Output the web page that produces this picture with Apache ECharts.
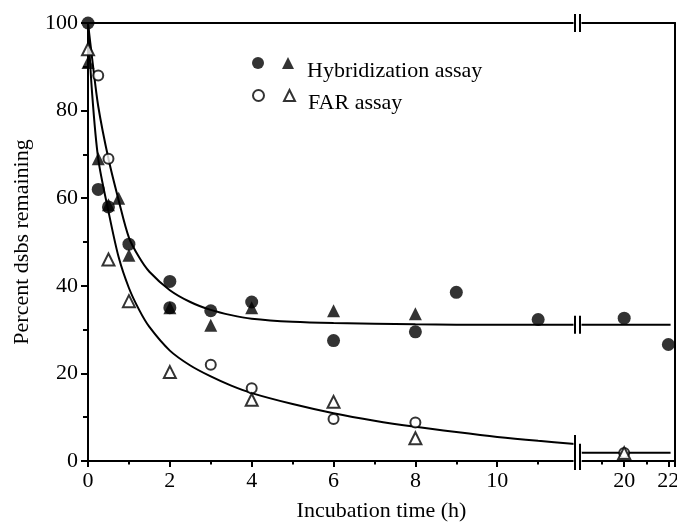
<!DOCTYPE html>
<html>
<head>
<meta charset="utf-8">
<script src="https://cdn.jsdelivr.net/npm/echarts@6/dist/echarts.min.js"></script>
<style>
html, body { margin: 0; padding: 0; background: #fff; }
#main { width: 677px; height: 522px; }
</style>
</head>
<body>
<div id="main"></div>
<script>
// time axis is broken: left part 0 - 11.9 h, right part 18 - 22.3 h
var breakStart = 11.9, breakEnd = 18;
var leftTicks = [0, 2, 4, 6, 8, 10];
var rightTicks = [20, 22];

// [time (h), percent dsbs remaining]
var hybCircle = [[0, 100], [0.25, 62], [0.5, 58], [1, 49.5], [2, 41], [2, 35], [3, 34.3], [4, 36.3],
    [6, 27.5], [8, 29.5], [9, 38.5], [11, 32.3], [20, 32.6], [22, 26.6]];
var hybTriangle = [[0, 91], [0.25, 69], [0.5, 58.5], [0.75, 60], [1, 47], [2, 35], [3, 31], [4, 35],
    [6, 34.3], [8, 33.6]];
var farCircle = [[0.25, 88], [0.5, 69], [3, 22], [4, 16.6], [6, 9.6], [8, 8.8], [20, 1.8]];
var farTriangle = [[0, 94], [0.5, 46], [1, 36.5], [2, 20.3], [4, 14], [6, 13.5], [8, 5.2], [20, 1.8]];

// fitted curves
var hybFit = [[0, 100], [0.1, 92], [0.25, 81], [0.5, 69], [0.75, 59.5], [1, 51], [1.25, 46.5], [1.5, 43.2],
    [2, 39], [2.5, 36.3], [3, 34.5], [3.5, 33.3], [4, 32.5], [5, 31.8], [6, 31.5], [8, 31.2], [10, 31.1],
    [11.9, 31.1], [18, 31.1], [22.1, 31.1]];
var farFit = [[0, 100], [0.1, 84], [0.25, 69], [0.5, 57], [0.75, 46.5], [1, 39.5], [1.25, 34.5], [1.5, 30.6],
    [2, 25.2], [2.5, 21.8], [3, 19.3], [3.5, 17.2], [4, 15.5], [5, 13], [6, 10.9], [7, 9.2], [8, 7.8],
    [9, 6.6], [10, 5.5], [11, 4.6], [11.9, 3.9], [18, 1.9], [22.1, 1.9]];

var font = 'Liberation Serif';
var black = '#000';

function leftPart(d) { return d.filter(function (p) { return p[0] <= breakStart; }); }
function rightPart(d) { return d.filter(function (p) { return p[0] >= breakEnd; }); }

var lineAxis = { show: true, onZero: false, lineStyle: { color: black, width: 2 } };

function bottomAxis(grid, min, max, ticks) {
    return {
        type: 'value', gridIndex: grid, position: 'bottom', min: min, max: max, interval: 2,
        axisLine: lineAxis,
        axisTick: { show: true, length: 6, lineStyle: { color: black, width: 2 } },
        minorTick: { show: true, splitNumber: 2, length: 3.5, lineStyle: { color: black, width: 2 } },
        axisLabel: {
            color: black, fontFamily: font, fontSize: 22, margin: 9,
            formatter: function (v) { return ticks.indexOf(v) >= 0 ? v : ''; }
        },
        splitLine: { show: false }
    };
}
function topAxis(grid, min, max) {
    return {
        type: 'value', gridIndex: grid, position: 'top', min: min, max: max,
        axisLine: lineAxis, axisTick: { show: false }, axisLabel: { show: false }, splitLine: { show: false }
    };
}

function scatter(name, data, symbol, size) {
    var empty = symbol.indexOf('empty') === 0;
    var item = { color: black };
    if (empty) { item.borderWidth = 2; item.borderColor = black; }
    return [
        { name: name, type: 'scatter', xAxisIndex: 0, yAxisIndex: 0, data: leftPart(data),
          symbol: symbol, symbolSize: size, itemStyle: item, z: 5 },
        { name: name, type: 'scatter', xAxisIndex: 2, yAxisIndex: 1, data: rightPart(data),
          symbol: symbol, symbolSize: size, itemStyle: item, z: 5 }
    ];
}
function fit(data) {
    var common = { type: 'line', smooth: 0.3, showSymbol: false, symbol: 'none',
        lineStyle: { color: black, width: 2 }, z: 3, silent: true };
    return [
        Object.assign({ xAxisIndex: 0, yAxisIndex: 0, data: leftPart(data) }, common),
        Object.assign({ xAxisIndex: 2, yAxisIndex: 1, data: rightPart(data) }, common)
    ];
}

var legendNames = { hybC: '', hybT: '{t|Hybridization assay}', farC: '', farT: '{t|FAR assay}' };
function legend(names, top, size) {
    return {
        data: names, left: 252, top: top, padding: 0, itemGap: 18, itemWidth: size, itemHeight: size,
        selectedMode: false,
        formatter: function (n) { return legendNames[n]; },
        textStyle: {
            color: black, fontFamily: font, fontSize: 22,
            rich: { t: { color: black, fontFamily: font, fontSize: 22, padding: [16, 0, 0, 8] } }
        }
    };
}

var chart = echarts.init(document.getElementById('main'));
var option = {
    animation: false,
    backgroundColor: '#fff',
    grid: [
        { left: 88, right: 102, top: 23, bottom: 61, outerBoundsMode: 'none' },
        { left: 580, right: 2, top: 23, bottom: 61, outerBoundsMode: 'none' }
    ],
    legend: [legend(['hybC', 'hybT'], 57, 12), legend(['farC', 'farT'], 89, 11)],
    xAxis: [
        bottomAxis(0, 0, breakStart, leftTicks),
        topAxis(0, 0, breakStart),
        bottomAxis(1, breakEnd, 22.3, rightTicks),
        topAxis(1, breakEnd, 22.3)
    ],
    yAxis: [
        {
            type: 'value', gridIndex: 0, min: 0, max: 100, interval: 20,
            name: 'Percent dsbs remaining', nameLocation: 'middle', nameGap: 55,
            nameTextStyle: { color: black, fontFamily: font, fontSize: 22 },
            axisLine: lineAxis,
            axisTick: { show: true, length: 7, lineStyle: { color: black, width: 2 } },
            minorTick: { show: true, splitNumber: 2, length: 5, lineStyle: { color: black, width: 2 } },
            axisLabel: { color: black, fontFamily: font, fontSize: 22, margin: 10 },
            splitLine: { show: false }
        },
        {
            type: 'value', gridIndex: 1, position: 'right', min: 0, max: 100,
            axisLine: lineAxis, axisTick: { show: false }, axisLabel: { show: false }, splitLine: { show: false }
        }
    ],
    series: [].concat(
        fit(hybFit), fit(farFit),
        scatter('hybC', hybCircle, 'circle', 13),
        scatter('hybT', hybTriangle, 'triangle', 13),
        scatter('farC', farCircle, 'emptyCircle', 10),
        scatter('farT', farTriangle, 'emptyTriangle', 12)
    )
};
chart.setOption(option);

// break marks "||" and the shared x axis title
function px(grid, x, y) { return chart.convertToPixel({ gridIndex: grid }, [x, y]); }
function lastY(d) { return leftPart(d).slice(-1)[0][1]; }
function firstY(d) { return rightPart(d)[0][1]; }
var marks = [];
[[0, 0], [100, 100], [lastY(hybFit), firstY(hybFit)], [lastY(farFit), firstY(farFit)]].forEach(function (pair) {
    var a = px(0, breakStart, pair[0]), b = px(1, breakEnd, pair[1]);
    [a, b].forEach(function (p) {
        marks.push({ type: 'rect', shape: { x: p[0] - 1.5, y: p[1] - 9, width: 3, height: 18 },
            style: { fill: '#fff' }, z: 10 });
        marks.push({ type: 'line', shape: { x1: p[0], y1: p[1] - 9, x2: p[0], y2: p[1] + 9 },
            style: { stroke: black, lineWidth: 2 }, z: 11 });
    });
});
var x0 = px(0, 0, 0)[0], x1 = px(1, 22.3, 0)[0];
marks.push({ type: 'text', x: (x0 + x1) / 2, y: 511, z: 11,
    style: { text: 'Incubation time (h)', fill: black, font: '22px "Liberation Serif"', align: 'center', verticalAlign: 'middle' } });
chart.setOption({ graphic: marks });
</script>
</body>
</html>
